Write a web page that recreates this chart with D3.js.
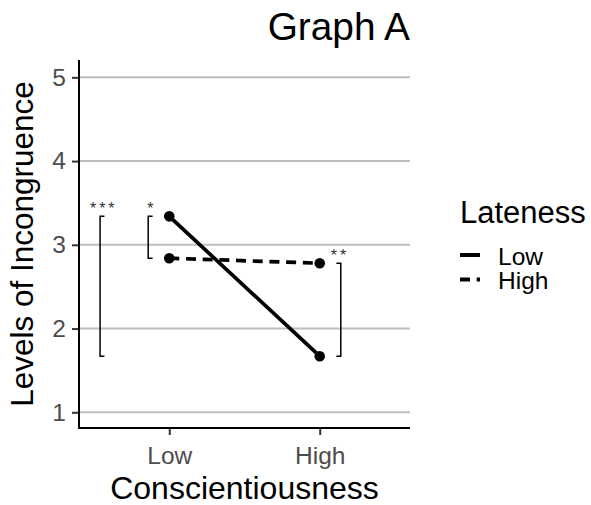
<!DOCTYPE html>
<html lang="en">
	<head>
		<meta charset="UTF-8" />
		<title>Graph A</title>
		<script src="https://d3js.org/d3.v7.min.js"></script>
		<style>
			body {
				margin: 0;
				background: white;
			}
			svg {
				font-family: "Liberation Sans", Arial, sans-serif;
			}
		</style>
	</head>
	<body>
		<svg id="svg" width="591" height="505"></svg>
		<script>
			// values
			const conscientiousness = ["Low", "High"];
			const latenessLevels = ["Low", "High"];
			const lowLateness = [3.34, 1.67];
			const highLateness = [2.84, 2.78];
			const yTicks = [1, 2, 3, 4, 5];

			// significance brackets (x in discrete-axis units, 1 = Low, 2 = High)
			const bracketX = [0.54, 0.86, 2.14];
			const bracketLow = [1.67, 2.84, 1.67];
			const bracketHigh = [3.34, 3.34, 2.78];
			const bracketLabels = ["***", "*", "**"];
			const bracketSide = [1, 1, -1];

			const svg = d3.select("svg");
			const pLeft = 79,
				pRight = 410,
				pTop = 60,
				pBottom = 428;

			const x = d3
				.scalePoint()
				.domain(conscientiousness)
				.range([pLeft, pRight])
				.padding(0.6);
			const xc = d3.scaleLinear().domain([0.4, 2.6]).range([pLeft, pRight]);
			const y = d3.scaleLinear().domain([0.8125, 5.207]).range([pBottom, pTop]);

			// grid
			svg.append("g")
				.selectAll("line")
				.data(yTicks)
				.enter()
				.append("line")
				.attr("x1", pLeft)
				.attr("x2", pRight)
				.attr("y1", (d) => y(d))
				.attr("y2", (d) => y(d))
				.attr("stroke", "#bebebe")
				.attr("stroke-width", 2);

			// axes
			const yAxis = svg
				.append("g")
				.attr("transform", `translate(${pLeft},0)`)
				.call(
					d3
						.axisLeft(y)
						.tickValues(yTicks)
						.tickFormat(d3.format("d"))
						.tickSize(7)
						.tickPadding(6)
				);
			const xAxis = svg
				.append("g")
				.attr("transform", `translate(0,${pBottom})`)
				.call(d3.axisBottom(x).tickSize(7).tickPadding(6));
			[xAxis, yAxis].forEach((g) => {
				g.select(".domain").remove();
				g.selectAll(".tick line").attr("stroke", "#333").attr("stroke-width", 2);
				g.selectAll(".tick text")
					.attr("fill", "#4d4d4d")
					.style("font-size", "24.5px")
					.style("font-family", "'Liberation Sans', Arial, sans-serif");
			});
			xAxis.selectAll(".tick text").attr("dy", "0.95em");
			svg.append("path")
				.attr("d", `M${pLeft},${pTop}V${pBottom}H${pRight}`)
				.attr("fill", "none")
				.attr("stroke", "black")
				.attr("stroke-width", 2);

			// lines and points
			const series = [
				{ name: latenessLevels[0], values: lowLateness, dash: null },
				{ name: latenessLevels[1], values: highLateness, dash: "10,6.7" },
			];
			const line = d3
				.line()
				.x((d, i) => x(conscientiousness[i]))
				.y((d) => y(d));
			series.forEach((s) => {
				svg.append("path")
					.attr("d", line(s.values))
					.attr("fill", "none")
					.attr("stroke", "black")
					.attr("stroke-width", 3.7)
					.attr("stroke-dasharray", s.dash);
				svg.append("g")
					.selectAll("circle")
					.data(s.values)
					.enter()
					.append("circle")
					.attr("cx", (d, i) => x(conscientiousness[i]))
					.attr("cy", (d) => y(d))
					.attr("r", 5.3)
					.attr("fill", "black");
			});

			// brackets
			bracketX.forEach((bx, i) => {
				const px = xc(bx);
				const t = 4.4 * bracketSide[i];
				const y1 = y(bracketHigh[i]);
				const y2 = y(bracketLow[i]);
				svg.append("path")
					.attr("d", `M${px + t},${y1}H${px}V${y2}H${px + t}`)
					.attr("fill", "none")
					.attr("stroke", "black")
					.attr("stroke-width", 1.5);
				svg.append("text")
					.attr("x", px + t / 2)
					.attr("dx", 1.5)
					.attr("y", y1 - 2)
					.attr("text-anchor", "middle")
					.style("font-size", "16px")
					.style("letter-spacing", "3px")
					.attr("fill", "#333")
					.text(bracketLabels[i]);
			});

			// titles
			svg.append("text")
				.attr("x", pRight)
				.attr("y", 40)
				.attr("text-anchor", "end")
				.style("font-size", "38.8px")
				.text("Graph A");
			svg.append("text")
				.attr("x", (pLeft + pRight) / 2)
				.attr("y", 499)
				.attr("text-anchor", "middle")
				.style("font-size", "32px")
				.text("Conscientiousness");
			svg.append("text")
				.attr("transform", `translate(33,${(pTop + pBottom) / 2}) rotate(-90)`)
				.attr("text-anchor", "middle")
				.style("font-size", "31.5px")
				.text("Levels of Incongruence");

			// legend
			const legend = svg.append("g");
			legend.append("text")
				.attr("x", 460)
				.attr("y", 223)
				.style("font-size", "31px")
				.text("Lateness");
			series.forEach((s, i) => {
				const ly = 255 + i * 24.5;
				legend.append("line")
					.attr("x1", 460)
					.attr("x2", 480)
					.attr("y1", ly)
					.attr("y2", ly)
					.attr("stroke", "black")
					.attr("stroke-width", 4)
					.attr("stroke-dasharray", s.dash);
				legend.append("text")
					.attr("x", 498)
					.attr("y", ly + 9.5)
					.style("font-size", "24.5px")
					.text(s.name);
			});
		</script>
	</body>
</html>
